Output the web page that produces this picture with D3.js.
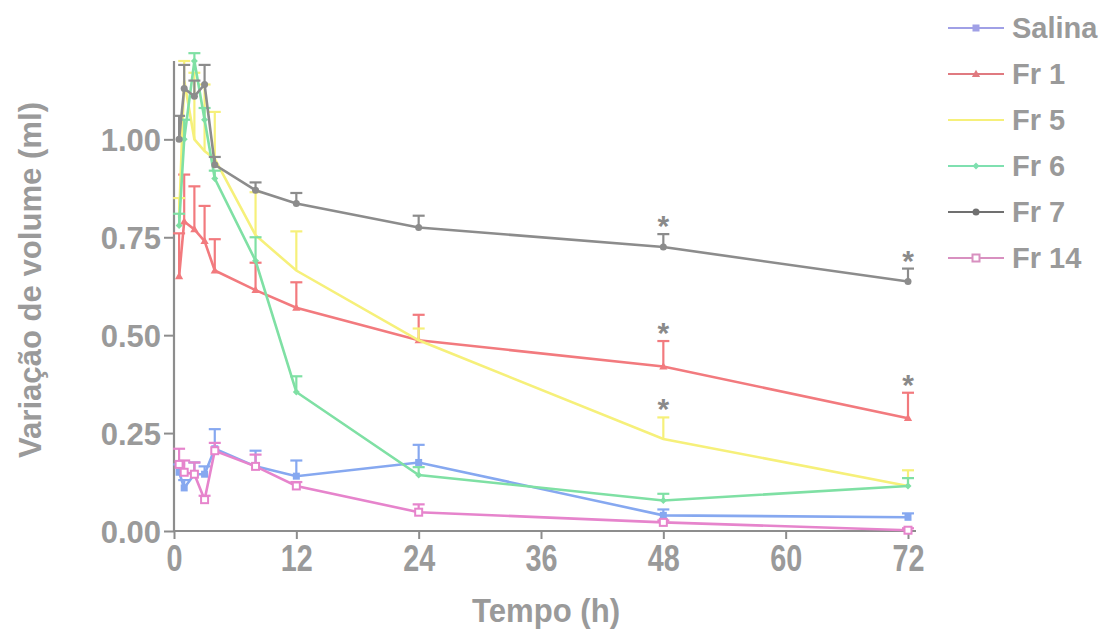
<!DOCTYPE html>
<html><head><meta charset="utf-8">
<script src="https://cdn.jsdelivr.net/npm/d3@7"></script>
<style>body{margin:0;background:#fff}svg{display:block}</style>
</head><body>
<svg id="c" width="1104" height="633"></svg>
<script>
const times = [0.5, 1, 2, 3, 4, 8, 12, 24, 48, 72];
const seriesNames = ["Salina", "Fr 1", "Fr 5", "Fr 6", "Fr 7", "Fr 14"];
const salina = [0.15, 0.11, 0.145, 0.145, 0.21, 0.165, 0.14, 0.175, 0.04, 0.035];
const salinaErr = [0.02, 0.02, 0.03, 0.02, 0.05, 0.04, 0.04, 0.045, 0.015, 0.01];
const fr1 = [0.65, 0.79, 0.77, 0.74, 0.665, 0.615, 0.57, 0.487, 0.42, 0.288];
const fr1Err = [0.11, 0.12, 0.11, 0.09, 0.08, 0.07, 0.065, 0.065, 0.065, 0.065];
const fr5 = [0.80, 1.15, 1.00, 0.97, 0.95, 0.755, 0.665, 0.487, 0.235, 0.115];
const fr5Err = [0.05, 0.05, 0.17, 0.17, 0.12, 0.11, 0.10, 0.03, 0.055, 0.04];
const fr6 = [0.78, 1.0, 1.2, 1.05, 0.9, 0.69, 0.355, 0.143, 0.078, 0.115];
const fr6Err = [0.03, 0.05, 0.02, 0.03, 0.02, 0.06, 0.04, 0.02, 0.017, 0.02];
const fr7 = [1.00, 1.13, 1.11, 1.14, 0.935, 0.87, 0.836, 0.775, 0.725, 0.637];
const fr7Err = [0.06, 0.06, 0.04, 0.05, 0.02, 0.02, 0.027, 0.03, 0.033, 0.033];
const fr14 = [0.17, 0.15, 0.145, 0.08, 0.205, 0.165, 0.115, 0.048, 0.022, 0.002];
const fr14Err = [0.04, 0.03, 0.03, 0.01, 0.02, 0.03, 0.01, 0.02, 0.005, 0.005];
const xTicks = [0, 12, 24, 36, 48, 60, 72];
const yTicks = [0, 0.25, 0.5, 0.75, 1.0];
// significance marks: [series index, time]
const stars = [[4, 48], [4, 72], [1, 48], [1, 72], [2, 48]];

const colors = ["#86a8f0", "#f27a7e", "#f6f07a", "#7fe0a4", "#8c8c8c", "#e684cc"];
const legendColors = ["#a0a0e6", "#e07a80", "#f6f07a", "#7fe0b0", "#707070", "#d890c0"];
const markers = ["square", "triangle", "none", "diamond", "circle", "opensquare"];
const values = [salina, fr1, fr5, fr6, fr7, fr14];
const errs = [salinaErr, fr1Err, fr5Err, fr6Err, fr7Err, fr14Err];

const svg = d3.select("#c");
const x = d3.scaleLinear().domain([0, 72]).range([174, 908]);
const y = d3.scaleLinear().domain([0, 1.2]).range([531, 61]);
const axisCol = "#8d8d8d", textCol = "#9a9a9a";
const font = "Liberation Sans, Arial, sans-serif";

// axes
const gx = svg.append("g").attr("transform", "translate(0,531)")
  .call(d3.axisBottom(x).tickValues(xTicks).tickSize(8).tickFormat(d3.format("d")));
gx.select(".domain").attr("d", `M${x(0)},0H${x(72) + 8}`);
const gy = svg.append("g").attr("transform", "translate(174,0)")
  .call(d3.axisLeft(y).tickValues(yTicks).tickSize(10).tickFormat(d3.format(".2f")));
gy.select(".domain").attr("d", `M0,${y(0)}V${y(1.2)}`);
[gx, gy].forEach(g => {
  g.select(".domain").attr("stroke", axisCol).attr("stroke-width", 2.2);
  g.selectAll(".tick line").attr("stroke", axisCol).attr("stroke-width", 2);
  g.selectAll("text").attr("fill", textCol).attr("font-family", font).attr("font-weight", "bold");
});
gx.selectAll("text").attr("font-size", 36).attr("dy", "0.95em").attr("y", 6)
  .each(function(d) { d3.select(this).attr("textLength", String(d).length * 16).attr("lengthAdjust", "spacingAndGlyphs"); });
gy.selectAll("text").attr("font-size", 31).attr("x", -13).attr("dy", "0.36em");

// axis titles
svg.append("text").attr("x", 546).attr("y", 622).attr("text-anchor", "middle")
  .attr("font-family", font).attr("font-weight", "bold").attr("font-size", 33).attr("fill", textCol)
  .attr("textLength", 148).attr("lengthAdjust", "spacingAndGlyphs").text("Tempo (h)");
svg.append("text").attr("transform", "translate(41,280) rotate(-90)").attr("text-anchor", "middle")
  .attr("font-family", font).attr("font-weight", "bold").attr("font-size", 31).attr("fill", textCol)
  .attr("textLength", 356).attr("lengthAdjust", "spacingAndGlyphs").text("Variação de volume (ml)");

function drawMarker(g, type, cx, cy, col, s) {
  s = s || 7;
  if (type === "square") g.append("rect").attr("x", cx - s / 2).attr("y", cy - s / 2).attr("width", s).attr("height", s).attr("fill", col);
  else if (type === "opensquare") g.append("rect").attr("x", cx - s / 2).attr("y", cy - s / 2).attr("width", s).attr("height", s).attr("fill", "#fff").attr("stroke", col).attr("stroke-width", 2);
  else if (type === "triangle") g.append("path").attr("d", `M${cx},${cy - s / 1.6}L${cx + s / 1.7},${cy + s / 2.4}L${cx - s / 1.7},${cy + s / 2.4}Z`).attr("fill", col);
  else if (type === "circle") g.append("circle").attr("cx", cx).attr("cy", cy).attr("r", s / 2).attr("fill", col);
  else if (type === "diamond") g.append("path").attr("d", `M${cx},${cy - s / 2}L${cx + s / 2},${cy}L${cx},${cy + s / 2}L${cx - s / 2},${cy}Z`).attr("fill", col);
}

const line = d3.line().x(d => x(d[0])).y(d => y(d[1]));
const plot = svg.append("g");
values.forEach((vals, si) => {
  const g = plot.append("g");
  const col = colors[si];
  const pts = times.map((t, i) => [t, vals[i]]);
  // error bars (upper)
  times.forEach((t, i) => {
    const cx = x(t), y0 = y(vals[i]), y1 = y(vals[i] + errs[si][i]);
    g.append("line").attr("x1", cx).attr("x2", cx).attr("y1", y0).attr("y2", y1).attr("stroke", col).attr("stroke-width", 2.2);
    g.append("line").attr("x1", cx - 6).attr("x2", cx + 6).attr("y1", y1).attr("y2", y1).attr("stroke", col).attr("stroke-width", 2.2);
  });
  g.append("path").datum(pts).attr("d", line).attr("fill", "none").attr("stroke", col).attr("stroke-width", 2.6);
  pts.forEach(p => drawMarker(g, markers[si], x(p[0]), y(p[1]), col, 7));
});

// stars
stars.forEach(([si, t]) => {
  const i = times.indexOf(t);
  svg.append("text").attr("x", x(t)).attr("y", y(values[si][i] + errs[si][i]) + 2)
    .attr("text-anchor", "middle").attr("font-family", font).attr("font-weight", "bold")
    .attr("font-size", 30).attr("fill", "#8a8a8a").text("*");
});

// legend
const lg = svg.append("g");
seriesNames.forEach((name, si) => {
  const cy = 28 + si * 46;
  lg.append("line").attr("x1", 948).attr("x2", 1004).attr("y1", cy).attr("y2", cy).attr("stroke", legendColors[si]).attr("stroke-width", 2);
  drawMarker(lg, markers[si], 976, cy, legendColors[si], 7);
  lg.append("text").attr("x", 1012).attr("y", cy).attr("dy", "0.36em")
    .attr("font-family", font).attr("font-weight", "bold").attr("font-size", 29).attr("fill", textCol).text(name);
});
</script>
</body></html>
